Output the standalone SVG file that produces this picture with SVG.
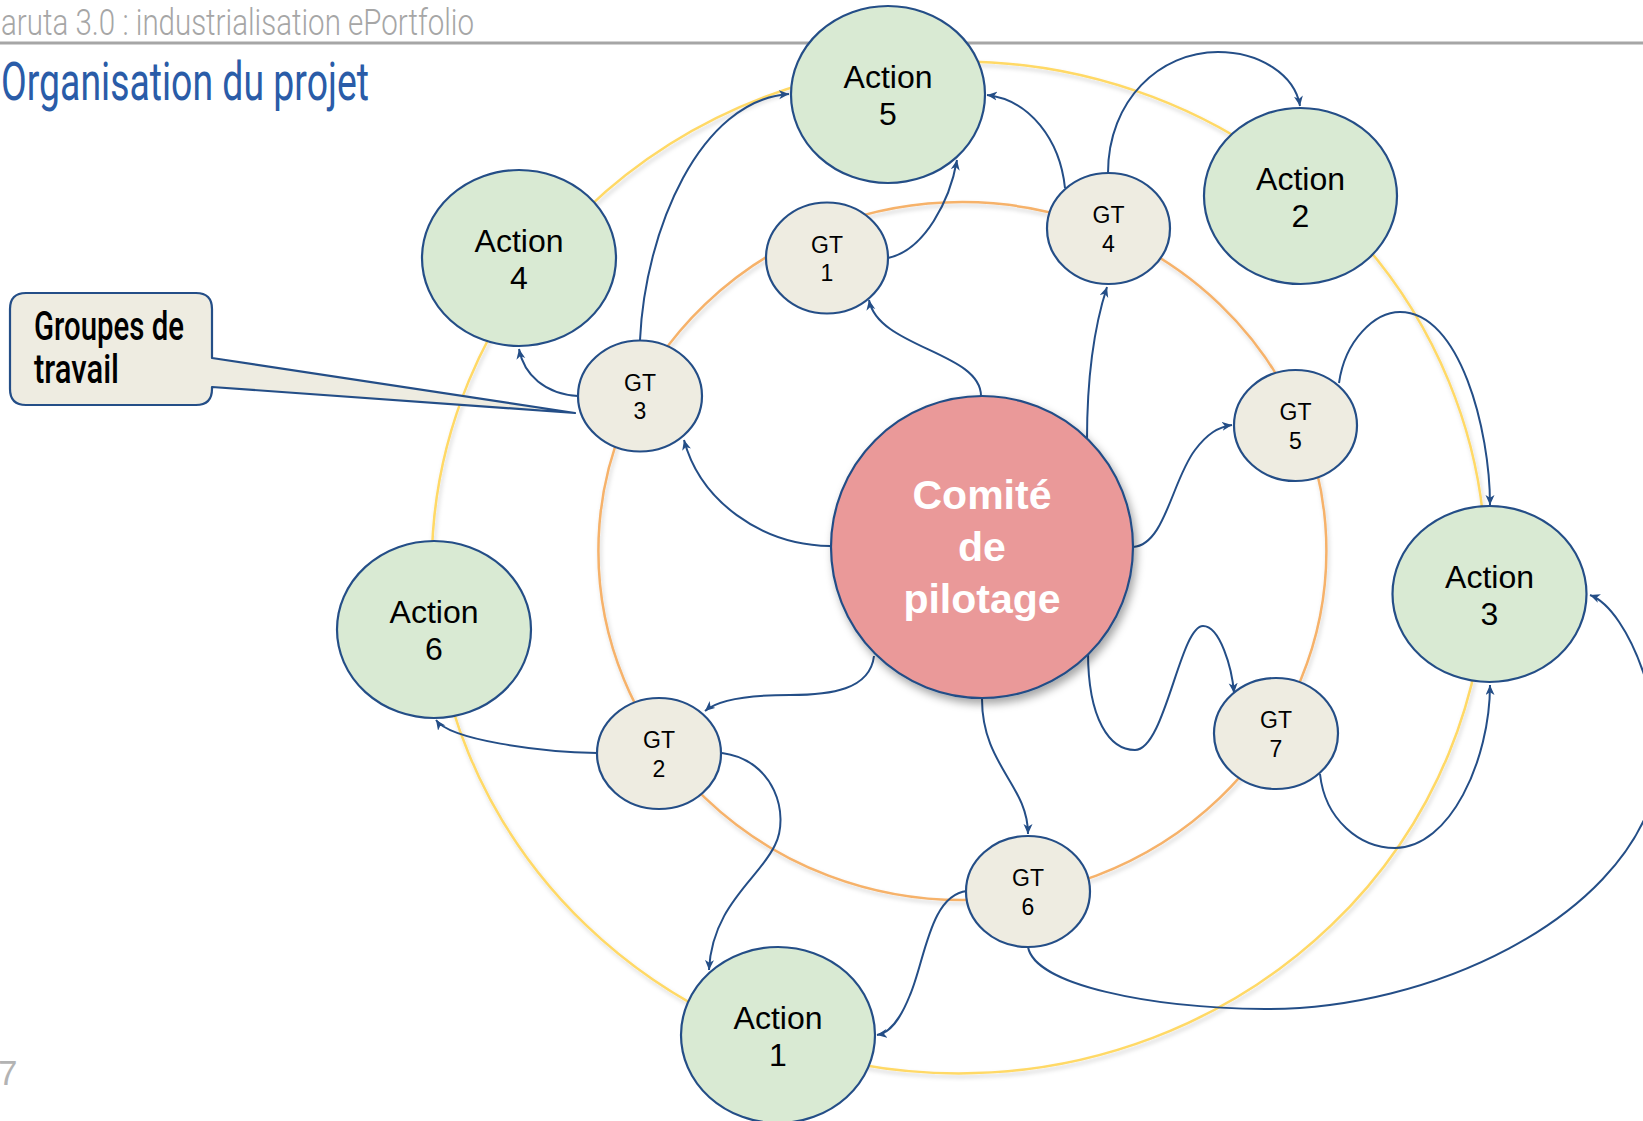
<svg xmlns="http://www.w3.org/2000/svg" width="1643" height="1121" viewBox="0 0 1643 1121">
  <style>
    .ring { fill: none; stroke-width: 2.5; filter: url(#ringShadow); }
    .action { fill: #d9ead3; stroke: #244e87; stroke-width: 2.2; }
    .gt { fill: #eeece1; stroke: #244e87; stroke-width: 2.2; }
    .copil { fill: #ea9999; stroke: #244e87; stroke-width: 2.2; filter: url(#nodeShadow); }
    .conn { fill: none; stroke: #244e87; stroke-width: 2; marker-end: url(#arrow); }
    .atext { font-family: "Liberation Sans", Arial, sans-serif; font-size: 32px; fill: #000; text-anchor: middle; }
    .gtext { font-family: "Liberation Sans", Arial, sans-serif; font-size: 23px; fill: #000; text-anchor: middle; }
    .ctext { font-family: "Liberation Sans", Arial, sans-serif; font-size: 41px; font-weight: bold; fill: #fff; text-anchor: middle; }
    .cond { font-family: Roboto, "Liberation Sans", sans-serif; }
  </style>
  <defs>
    <marker id="arrow" markerUnits="userSpaceOnUse" markerWidth="12" markerHeight="10" refX="10" refY="4.5" orient="auto">
      <path d="M0,0 L10,4.5 L0,9 L2.8,4.5 Z" fill="#244e87"/>
    </marker>
    <filter id="ringShadow" x="-10%" y="-10%" width="120%" height="120%">
      <feDropShadow dx="1.5" dy="3" stdDeviation="2" flood-color="#000" flood-opacity="0.18"/>
    </filter>
    <filter id="nodeShadow" x="-15%" y="-15%" width="130%" height="130%">
      <feDropShadow dx="3" dy="5" stdDeviation="4" flood-color="#000" flood-opacity="0.35"/>
    </filter>
  </defs>

  <rect width="1643" height="1121" fill="#ffffff"/>

  <!-- header -->
  <g id="header">
    <text class="cond" x="1" y="35" font-size="37" font-weight="300" fill="#a6a6a6" textLength="473" lengthAdjust="spacingAndGlyphs">aruta 3.0 : industrialisation ePortfolio</text>
    <rect x="0" y="41.5" width="1643" height="3" fill="#a6a6a6"/>
    <text class="cond" x="1" y="100" font-size="54" font-weight="400" fill="#2a5ca8" textLength="368" lengthAdjust="spacingAndGlyphs">Organisation du projet</text>
    <text x="-2" y="1085" font-family="Liberation Sans, Arial, sans-serif" font-size="35" fill="#b3b3b3">7</text>
  </g>

  <!-- rings -->
  <g id="rings">
    <ellipse class="ring" cx="958.7" cy="567.4" rx="527" ry="506" stroke="#ffd966"/>
    <ellipse class="ring" cx="962.4" cy="551.1" rx="364" ry="349" stroke="#f6b26b"/>
  </g>

  <!-- connectors -->
  <g id="connectors">
    <path class="conn" d="M981,396 C981,352 878,348 869,300"/>
    <path class="conn" d="M1087,440 C1087,380 1093,330 1107,287"/>
    <path class="conn" d="M1133,547 C1165,545 1172,480 1195,450 C1207,434 1218,427 1232,425"/>
    <path class="conn" d="M830,546 C760,545 700,500 684,440"/>
    <path class="conn" d="M874,656 C870,690 830,695 790,695 C755,695 720,698 705,711"/>
    <path class="conn" d="M982,699 C982,765 1028,785 1028,834"/>
    <path class="conn" d="M1088,652 C1088,720 1110,750 1135,750 C1165,750 1180,626 1203,626 C1220,626 1232,668 1234,693"/>
    <path class="conn" d="M578,396 C545,394 524,375 519,349"/>
    <path class="conn" d="M640,340 C645,230 700,100 789,94"/>
    <path class="conn" d="M888,258 C925,250 950,200 957,160"/>
    <path class="conn" d="M1065,188 C1060,140 1030,100 987,95"/>
    <path class="conn" d="M1108,173 C1108,100 1160,52 1218,52 C1260,52 1295,75 1300,106"/>
    <path class="conn" d="M1339,383 C1345,340 1375,312 1400,312 C1460,312 1490,430 1490,505"/>
    <path class="conn" d="M597,753 C540,752 450,740 436,720"/>
    <path class="conn" d="M722,753 C775,760 790,815 775,845 C760,878 712,905 709,970"/>
    <path class="conn" d="M967,891 C930,895 925,960 910,995 C900,1020 890,1033 877,1035"/>
    <path class="conn" d="M1028,947 C1035,985 1150,1008 1265,1009 C1430,1010 1620,920 1655,790 C1670,720 1630,610 1590,595"/>
    <path class="conn" d="M1320,774 C1325,820 1360,848 1395,848 C1450,848 1490,760 1490,685"/>
  </g>

  <!-- callout -->
  <g id="callout">
    <path d="M26,293 H196 Q212,293 212,309 V358 L575,413 L212,387 V389 Q212,405 196,405 H26 Q10,405 10,389 V309 Q10,293 26,293 Z" fill="#eeece1" stroke="#244e87" stroke-width="2.2" stroke-linejoin="round"/>
    <text class="cond" x="34" y="340" font-size="40" font-weight="500" fill="#000" textLength="150" lengthAdjust="spacingAndGlyphs">Groupes de</text>
    <text class="cond" x="34" y="383" font-size="40" font-weight="500" fill="#000" textLength="85" lengthAdjust="spacingAndGlyphs">travail</text>
  </g>

  <!-- action nodes -->
  <g id="action5">
    <ellipse class="action" cx="888" cy="94.5" rx="97" ry="88.5"/>
    <text class="atext" x="888" y="88">Action</text>
    <text class="atext" x="888" y="125">5</text>
  </g>
  <g id="action2">
    <ellipse class="action" cx="1300.5" cy="196" rx="96.5" ry="88"/>
    <text class="atext" x="1300.5" y="189.5">Action</text>
    <text class="atext" x="1300.5" y="226.5">2</text>
  </g>
  <g id="action4">
    <ellipse class="action" cx="519" cy="258" rx="97" ry="88"/>
    <text class="atext" x="519" y="251.5">Action</text>
    <text class="atext" x="519" y="288.5">4</text>
  </g>
  <g id="action6">
    <ellipse class="action" cx="434" cy="629.5" rx="97" ry="88.5"/>
    <text class="atext" x="434" y="623">Action</text>
    <text class="atext" x="434" y="660">6</text>
  </g>
  <g id="action3">
    <ellipse class="action" cx="1489.5" cy="594" rx="97" ry="88"/>
    <text class="atext" x="1489.5" y="587.5">Action</text>
    <text class="atext" x="1489.5" y="624.5">3</text>
  </g>
  <g id="action1">
    <ellipse class="action" cx="778" cy="1035" rx="97" ry="88"/>
    <text class="atext" x="778" y="1028.5">Action</text>
    <text class="atext" x="778" y="1065.5">1</text>
  </g>

  <!-- GT nodes -->
  <g id="gt1">
    <ellipse class="gt" cx="827" cy="258" rx="61" ry="55.5"/>
    <text class="gtext" x="827" y="253">GT</text>
    <text class="gtext" x="827" y="281">1</text>
  </g>
  <g id="gt4">
    <ellipse class="gt" cx="1108.5" cy="228.5" rx="61.5" ry="55.5"/>
    <text class="gtext" x="1108.5" y="223">GT</text>
    <text class="gtext" x="1108.5" y="251.5">4</text>
  </g>
  <g id="gt3">
    <ellipse class="gt" cx="640" cy="396" rx="62" ry="55.5"/>
    <text class="gtext" x="640" y="390.5">GT</text>
    <text class="gtext" x="640" y="419">3</text>
  </g>
  <g id="gt5">
    <ellipse class="gt" cx="1295.5" cy="425.5" rx="61.5" ry="55.5"/>
    <text class="gtext" x="1295.5" y="420">GT</text>
    <text class="gtext" x="1295.5" y="448.5">5</text>
  </g>
  <g id="gt2">
    <ellipse class="gt" cx="659" cy="753.5" rx="62" ry="55.5"/>
    <text class="gtext" x="659" y="748">GT</text>
    <text class="gtext" x="659" y="776.5">2</text>
  </g>
  <g id="gt7">
    <ellipse class="gt" cx="1276" cy="733.5" rx="62" ry="55.5"/>
    <text class="gtext" x="1276" y="728">GT</text>
    <text class="gtext" x="1276" y="756.5">7</text>
  </g>
  <g id="gt6">
    <ellipse class="gt" cx="1028" cy="891.5" rx="62" ry="55.5"/>
    <text class="gtext" x="1028" y="886">GT</text>
    <text class="gtext" x="1028" y="914.5">6</text>
  </g>

  <!-- comité -->
  <g id="comite">
    <circle class="copil" cx="982" cy="547" r="151"/>
    <text class="ctext" x="982" y="509">Comité</text>
    <text class="ctext" x="982" y="561">de</text>
    <text class="ctext" x="982" y="613">pilotage</text>
  </g>
</svg>
